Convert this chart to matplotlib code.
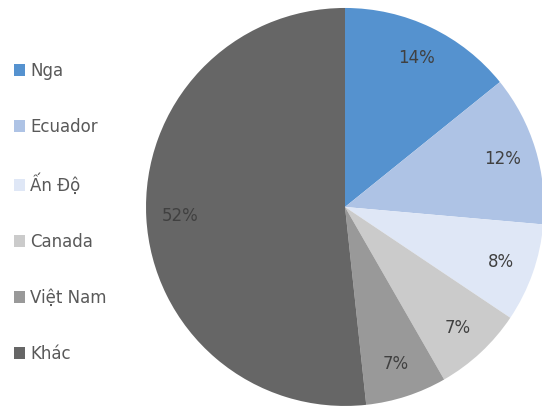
import matplotlib.pyplot as plt
from matplotlib.patches import Patch

countries = ["Nga", "Ecuador", "Ấn Độ", "Canada", "Việt Nam", "Khác"]
shares = [14.2, 12.2, 8.0, 7.3, 6.6, 51.7]
colors = ["#5592cf", "#aec3e5", "#dfe7f6", "#cbcbcb", "#999999", "#666666"]

plt.rcParams['font.family'] = ['DejaVu Sans']

fig = plt.figure(figsize=(5.42, 4.07), dpi=100)
ax = fig.add_axes([0.2694, 0.0025, 0.7343, 0.978])

wedges, texts, autotexts = ax.pie(
    shares, colors=colors, startangle=90, counterclock=False,
    autopct='%.0f%%', pctdistance=0.83, radius=1,
    textprops={'color': '#404040', 'fontsize': 12})
ax.set_xlim(-1, 1)
ax.set_ylim(-1, 1)
ax.set_aspect('equal')
ax.axis('off')

handles = [Patch(facecolor=c, edgecolor='none') for c in colors]
fig.legend(handles, countries, loc='upper left', bbox_to_anchor=(0.013, 0.865),
           frameon=False, handlelength=0.7, handleheight=0.7,
           handletextpad=0.3, labelspacing=2.28, fontsize=12,
           labelcolor='#595959', borderaxespad=0)

fig.savefig("out.png", dpi=100)
